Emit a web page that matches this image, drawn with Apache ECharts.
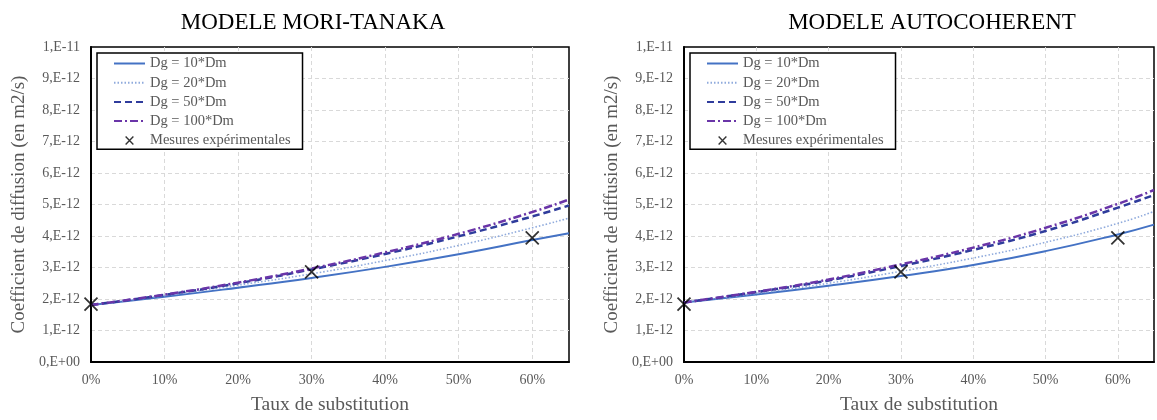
<!DOCTYPE html>
<html>
<head>
<meta charset="utf-8">
<script src="https://cdn.jsdelivr.net/npm/echarts@6/dist/echarts.min.js"></script>
<style>
  html, body { margin: 0; padding: 0; background: #fff; }
  #diffusion { width: 1157px; height: 420px; }
</style>
</head>
<body>
<div id="diffusion"></div>
<script>
// taux de substitution (%) and coefficient de diffusion (x 1e-12 m2/s)
var substitution = [0, 10, 20, 30, 40, 50, 60, 65];
var mtDg10  = [1.81, 2.07, 2.36, 2.67, 3.02, 3.42, 3.87, 4.09];
var mtDg20  = [1.81, 2.11, 2.44, 2.80, 3.22, 3.70, 4.26, 4.57];
var mtDg50  = [1.81, 2.13, 2.50, 2.94, 3.43, 3.99, 4.62, 4.97];
var mtDg100 = [1.81, 2.14, 2.52, 2.97, 3.48, 4.07, 4.76, 5.16];
var acDg10  = [1.89, 2.14, 2.42, 2.73, 3.08, 3.52, 4.05, 4.36];
var acDg20  = [1.89, 2.18, 2.50, 2.88, 3.30, 3.80, 4.40, 4.78];
var acDg50  = [1.89, 2.22, 2.59, 3.05, 3.56, 4.16, 4.90, 5.30];
var acDg100 = [1.89, 2.23, 2.62, 3.10, 3.63, 4.26, 5.02, 5.46];
var mesuresTaux = [0, 30, 60];
var mesures = [1.84, 2.86, 3.94];
var yTickLabels = ['0,E+00', '1,E-12', '2,E-12', '3,E-12', '4,E-12', '5,E-12',
                   '6,E-12', '7,E-12', '8,E-12', '9,E-12', '1,E-11'];
var titles = ['MODELE MORI-TANAKA', 'MODELE AUTOCOHERENT'];
var names = ['Dg = 10*Dm', 'Dg = 20*Dm', 'Dg = 50*Dm', 'Dg = 100*Dm', 'Mesures expérimentales'];

var font = 'Liberation Serif';
var grey = '#595959';
var gridLefts = [91, 684];
var titleCenters = [308, 927];

function pairs(xs, ys) {
  return xs.map(function (x, i) { return [x, ys[i]]; });
}

var lineStyles = [
  { color: '#4472c4', width: 2, type: 'solid' },
  { color: '#8faadc', width: 1.6, type: [1.5, 2] },
  { color: '#2f3c9c', width: 2.5, type: [7, 4] },
  { color: '#6a35a8', width: 2.5, type: [8, 3, 2, 3] }
];

var curves = [
  [mtDg10, mtDg20, mtDg50, mtDg100],
  [acDg10, acDg20, acDg50, acDg100]
];

var crossPath = 'path://M0,0L10,10M10,0L0,10';
var crossLegend = 'path://M-4,-4M14,14M0,0L10,10M10,0L0,10';

var myChart = echarts.init(document.getElementById('diffusion'));

var grids = [], xAxes = [], yAxes = [], series = [], legends = [], titleList = [];

gridLefts.forEach(function (left, g) {
  grids.push({
    left: left, top: 47, width: 478, height: 318,
    show: true, borderColor: '#000', borderWidth: 1.5, backgroundColor: '#fff'
  });
  titleList.push({
    text: titles[g],
    left: titleCenters[g], top: 6, textAlign: 'center',
    textStyle: { fontFamily: font, fontSize: 23, fontWeight: 'normal', color: '#000' }
  });
  xAxes.push({
    gridIndex: g, type: 'value', min: 0, max: 65, interval: 10,
    name: 'Taux de substitution', nameLocation: 'middle', nameGap: 33,
    nameTextStyle: { fontFamily: font, fontSize: 19.5, color: grey },
    axisLine: { lineStyle: { color: '#000', width: 2 } },
    axisTick: { show: false },
    axisLabel: {
      fontFamily: font, fontSize: 14, color: grey, margin: 11,
      formatter: function (v) { return v % 10 === 0 ? v + '%' : ''; }
    },
    splitLine: { showMinLine: false, showMaxLine: false,
                 lineStyle: { color: '#d9d9d9', type: [4, 3] } }
  });
  yAxes.push({
    gridIndex: g, type: 'value', min: 0, max: 10, interval: 1,
    name: 'Coefficient de diffusion (en m2/s)', nameLocation: 'middle', nameGap: 62,
    nameTextStyle: { fontFamily: font, fontSize: 19, color: grey },
    axisLine: { lineStyle: { color: '#000', width: 2 } },
    axisTick: { show: false },
    axisLabel: {
      fontFamily: font, fontSize: 14, color: grey, margin: 11,
      formatter: function (v) { return yTickLabels[Math.round(v)]; }
    },
    splitLine: { showMinLine: false, showMaxLine: false,
                 lineStyle: { color: '#d9d9d9', type: [4, 3] } }
  });
  curves[g].forEach(function (ys, i) {
    series.push({
      name: names[i], type: 'line', xAxisIndex: g, yAxisIndex: g,
      data: pairs(substitution, ys), smooth: true, symbol: 'none',
      lineStyle: lineStyles[i], itemStyle: { color: lineStyles[i].color }
    });
  });
  series.push({
    name: names[4], type: 'scatter', xAxisIndex: g, yAxisIndex: g,
    data: pairs(mesuresTaux, mesures), z: 5,
    symbol: crossPath, symbolSize: 13,
    itemStyle: { color: 'rgba(0,0,0,0)', borderColor: '#000', borderWidth: 1.8 }
  });
  legends.push({
    orient: 'vertical', left: left + 6, top: 53,
    data: names.map(function (n, i) {
      if (i < 4) return { name: n, itemStyle: { opacity: 0 } };
      return { name: n, icon: crossLegend,
               itemStyle: { color: 'rgba(0,0,0,0)', borderColor: '#000', borderWidth: 1.4 } };
    }),
    itemWidth: 31, itemHeight: 14, itemGap: 4.2,
    padding: [3, 12, 1, 16],
    backgroundColor: '#fff', borderColor: '#000', borderWidth: 1.5,
    textStyle: { fontFamily: font, fontSize: 14.5, color: grey },
    selectedMode: false
  });
});

var option = {
  animation: false,
  backgroundColor: '#fff',
  title: titleList,
  grid: grids,
  xAxis: xAxes,
  yAxis: yAxes,
  legend: legends,
  series: series
};

myChart.setOption(option);
</script>
</body>
</html>
